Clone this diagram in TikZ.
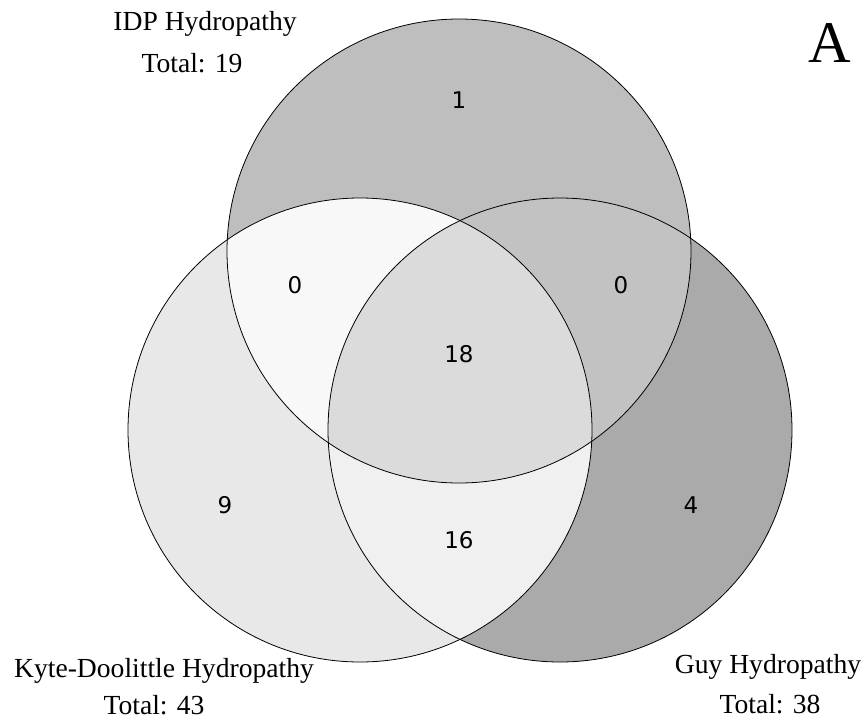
\documentclass[tikz,border=0pt]{standalone}
\usepackage{fontspec}
\setmainfont{Liberation Serif}
\newfontfamily\numfont{DejaVu Sans}
\usetikzlibrary{positioning}

\definecolor{idponly}{HTML}{BEBEBE}
\definecolor{kdonly}{HTML}{E8E8E8}
\definecolor{guyonly}{HTML}{AAAAAA}
\definecolor{idpkd}{HTML}{F8F8F8}
\definecolor{idpguy}{HTML}{C2C2C2}
\definecolor{kdguy}{HTML}{F0F0F0}
\definecolor{allthree}{HTML}{DBDBDB}

\begin{document}
\begin{tikzpicture}[x=1pt,y=-1pt,
  lbl/.style={font=\fontsize{27.6}{31}\selectfont,inner sep=0pt},
  num/.style={font=\numfont\fontsize{23}{26}\selectfont,inner sep=0pt},
  ring/.style={draw=black,line width=0.8pt}]
\useasboundingbox (0,0) rectangle (868,721);
\def\rad{232}
\coordinate (idp) at (459,251);
\coordinate (kd) at (360,430);
\coordinate (guy) at (560,430);
% single sets
\fill[idponly] (idp) circle (\rad);
\fill[kdonly] (kd) circle (\rad);
\fill[guyonly] (guy) circle (\rad);
% pairwise overlaps
\begin{scope}
  \clip (idp) circle (\rad);
  \fill[idpkd] (kd) circle (\rad);
  \fill[idpguy] (guy) circle (\rad);
\end{scope}
\begin{scope}
  \clip (kd) circle (\rad);
  \fill[kdguy] (guy) circle (\rad);
\end{scope}
% all three
\begin{scope}
  \clip (idp) circle (\rad);
  \clip (kd) circle (\rad);
  \fill[allthree] (guy) circle (\rad);
\end{scope}
\foreach \c in {idp,kd,guy} \draw[ring] (\c) circle (\rad);
% counts
\node[num] (n1) at (459,100) {1};
\node[num] (n2) at (295,285) {0};
\node[num] (n3) at (621,285) {0};
\node[num] (n4) at (459,354) {18};
\node[num] (n5) at (225,505) {9};
\node[num] (n6) at (459,540) {16};
\node[num] (n7) at (691,505) {4};
% set names
\node[lbl] (tidp) at (205,24) {IDP Hydropathy};
\node[lbl] (cidp) at (192,63) {Total: 19};
\node[lbl] (tkd) at (164,671) {Kyte-Doolittle Hydropathy};
\node[lbl] (ckd) at (154,705) {Total: 43};
\node[lbl] (tguy) at (768,667) {Guy Hydropathy};
\node[lbl] (cguy) at (770,704) {Total: 38};
\node[font=\fontsize{59}{62}\selectfont,inner sep=0pt] (pnl) at (830,43) {A};
\end{tikzpicture}
\end{document}
